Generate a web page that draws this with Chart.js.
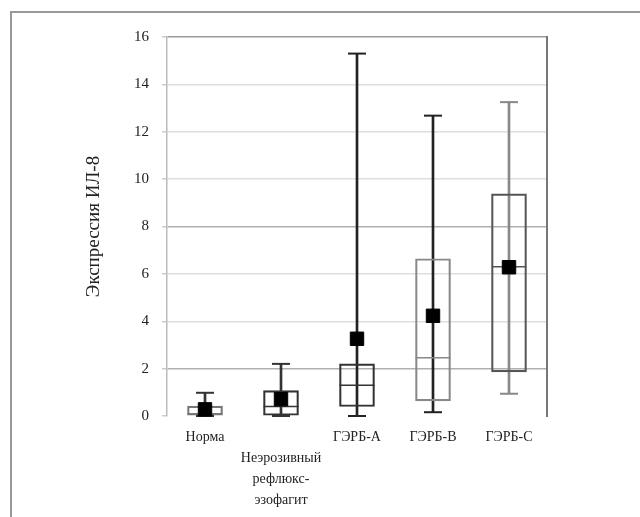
<!DOCTYPE html>
<html lang="ru">
<head>
  <meta charset="UTF-8">
  <title>Экспрессия ИЛ-8</title>
  <script src="https://cdn.jsdelivr.net/npm/chart.js"></script>
  <style>
    html, body { margin: 0; padding: 0; background: #fff; }
    #wrap { width: 640px; height: 517px; }
  </style>
</head>
<body>
  <div id="wrap"><canvas id="boxChart" width="640" height="517"></canvas></div>

  <script>
    // Groups (x axis)
    const groups = ['Норма', ['', 'Неэрозивный', 'рефлюкс-', 'эзофагит'], 'ГЭРБ-А', 'ГЭРБ-В', 'ГЭРБ-С'];

    // Box-plot values
    const minValues = [0, 0, 0, 0.16, 0.94];
    const q1Values = [0, 0, 0.4, 0.64, 1.86];
    const medianValues = [0.1, 0.4, 1.3, 2.46, 6.3];
    const q3Values = [0.42, 1.07, 2.2, 6.64, 9.38];
    const maxValues = [0.98, 2.2, 15.3, 12.68, 13.25];
    const meanValues = [0.28, 0.71, 3.26, 4.23, 6.28];

    const yTicks = [0, 2, 4, 6, 8, 10, 12, 14, 16];

    // per-group line colours
    const whiskerColors = ['#333', '#333', '#222', '#222', '#888'];
    const boxColors = ['#777', '#333', '#333', '#888', '#555'];

    // frame around the figure
    const framePlugin = {
      id: 'frame',
      beforeDraw(chart) {
        const ctx = chart.ctx;
        ctx.save();
        ctx.strokeStyle = '#999';
        ctx.lineWidth = 2;
        ctx.strokeRect(11, 12, 700, 600);
        ctx.restore();
      }
    };

    const ctx = document.getElementById('boxChart').getContext('2d');
    new Chart(ctx, {
      data: {
        labels: groups,
        datasets: [
          {
            type: 'bar',
            label: 'whisker',
            data: minValues.map((v, i) => [v, maxValues[i]]),
            backgroundColor: whiskerColors,
            borderWidth: 0,
            barThickness: 2,
            grouped: false,
            order: 5
          },
          {
            type: 'bar',
            label: 'box',
            data: q1Values.map((v, i) => [v, q3Values[i]]),
            backgroundColor: 'rgba(0,0,0,0)',
            borderColor: boxColors,
            borderWidth: 1.5,
            borderSkipped: false,
            barThickness: 35,
            grouped: false,
            order: 4
          },
          {
            type: 'line',
            label: 'max',
            data: maxValues,
            showLine: false,
            pointStyle: 'line',
            pointRadius: 9,
            pointBorderWidth: 2,
            pointBorderColor: whiskerColors,
            clip: false,
            order: 3
          },
          {
            type: 'line',
            label: 'min',
            data: minValues,
            showLine: false,
            pointStyle: 'line',
            pointRadius: 9,
            pointBorderWidth: 2,
            pointBorderColor: whiskerColors,
            clip: false,
            order: 3
          },
          {
            type: 'line',
            label: 'median',
            data: medianValues,
            showLine: false,
            pointStyle: 'line',
            pointRadius: 17.5,
            pointBorderWidth: 1.5,
            pointBorderColor: boxColors,
            clip: false,
            order: 2
          },
          {
            type: 'line',
            label: 'mean',
            data: meanValues,
            showLine: false,
            pointStyle: 'rect',
            pointRadius: 9.5,
            pointBackgroundColor: '#000',
            pointBorderColor: '#000',
            pointBorderWidth: 1,
            clip: false,
            order: 1
          }
        ]
      },
      options: {
        responsive: false,
        animation: false,
        events: [],
        layout: { padding: { left: 83, right: 85, top: 37, bottom: -5 } },
        plugins: {
          legend: { display: false },
          tooltip: { enabled: false }
        },
        scales: {
          x: {
            offset: true,
            grid: { display: false, drawTicks: false },
            border: { display: false },
            ticks: {
              padding: 11,
              maxRotation: 0,
              autoSkip: false,
              color: '#222',
              font: { family: '"Liberation Serif", serif', size: 14, lineHeight: 1.5 }
            }
          },
          y: {
            min: 0,
            max: 16,
            afterBuildTicks(scale) { scale.ticks = yTicks.map(v => ({ value: v })); },
            afterFit(scale) { scale.width = 84; },
            grid: {
              color: c => {
                const v = c.tick ? c.tick.value : null;
                if (v === 16) return '#999';
                if (v === 8 || v === 2) return '#b0b0b0';
                if (v === 0) return 'rgba(0,0,0,0)';
                return '#dedede';
              },
              lineWidth: 1.5,
              tickLength: 5,
              tickColor: '#ccc'
            },
            border: { display: true, color: '#bbb', width: 1.5 },
            ticks: {
              padding: 13,
              color: '#222',
              font: { family: '"Liberation Serif", serif', size: 15 }
            },
            title: {
              display: true,
              text: 'Экспрессия ИЛ-8',
              color: '#222',
              padding: 0,
              font: { family: '"Liberation Serif", serif', size: 19 }
            }
          },
          y2: {
            position: 'right',
            min: 0,
            max: 16,
            grid: { display: false },
            ticks: { display: false },
            border: { display: true, color: '#777', width: 2 }
          }
        }
      },
      plugins: [framePlugin]
    });
  </script>
</body>
</html>
